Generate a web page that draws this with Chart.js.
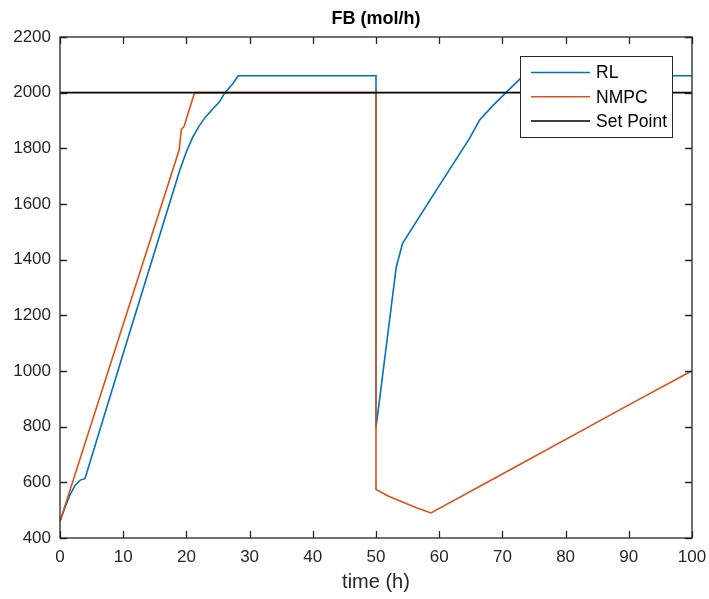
<!DOCTYPE html>
<html>
<head>
<meta charset="utf-8">
<script src="https://cdn.jsdelivr.net/npm/chart.js@4/dist/chart.umd.min.js"></script>
<style>
  html, body { margin: 0; padding: 0; background: #fff; }
  #wrap { width: 709px; height: 599px; }
</style>
</head>
<body>
<div id="wrap"><canvas id="c" width="709" height="599"></canvas></div>
<script>
// Feed rate FB (mol/h) over time for the RL controller, NMPC and the set point
const timeRL = [0, 0.8, 1.6, 2.4, 3.2, 3.95, 10.5, 19.0, 20.0, 21.0, 22.0, 23.0, 24.2, 25.2, 26.1, 27.4, 28.2,
                50, 50, 53.2, 54.2, 59.5, 64.8, 66.4, 68.6, 70.6, 72.7, 73.4, 100];
const fbRL   = [460, 510, 556, 590, 608, 613, 1100, 1725, 1788, 1840, 1880, 1912, 1942, 1966, 2000, 2034, 2061,
                2061, 796, 1373, 1459, 1648, 1836, 1902, 1956, 2001, 2048, 2061, 2061];

const timeNMPC = [0, 18.85, 19.2, 19.6, 21.3, 50, 50, 52, 54.2, 56.5, 58.7, 70, 89.5, 100];
const fbNMPC   = [460, 1794, 1868, 1877, 2000, 2000, 574, 550, 529, 508, 490, 630, 872, 1001];

const timeSP = [0, 100];
const fbSP   = [2000, 2000];

const xTicks = [0, 10, 20, 30, 40, 50, 60, 70, 80, 90, 100];
const yTicks = [400, 600, 800, 1000, 1200, 1400, 1600, 1800, 2000, 2200];

const seriesNames = ['RL', 'NMPC', 'Set Point'];
const seriesColors = ['#0072BD', '#D95319', '#000000'];

const toPoints = (xs, ys) => xs.map((x, i) => ({ x: x, y: ys[i] }));

const FONT = "'Liberation Sans', Arial, Helvetica, sans-serif";
const AXIS = '#262626';

// Box around the axes with inward tick marks on all four sides, plus a MATLAB-like legend
const boxPlugin = {
  id: 'boxAxes',
  afterDatasetsDraw(chart) {
    const { ctx, chartArea: a, scales } = chart;
    ctx.save();
    ctx.strokeStyle = AXIS;
    ctx.lineWidth = 1.3;
    ctx.strokeRect(a.left, a.top, a.right - a.left, a.bottom - a.top);
    const len = 7;
    ctx.beginPath();
    xTicks.forEach(v => {
      const px = Math.round(scales.x.getPixelForValue(v)) + 0.5;
      ctx.moveTo(px, a.bottom); ctx.lineTo(px, a.bottom - len);
      ctx.moveTo(px, a.top); ctx.lineTo(px, a.top + len);
    });
    yTicks.forEach(v => {
      const py = Math.round(scales.y.getPixelForValue(v)) + 0.5;
      ctx.moveTo(a.left, py); ctx.lineTo(a.left + len, py);
      ctx.moveTo(a.right, py); ctx.lineTo(a.right - len, py);
    });
    ctx.stroke();

    // legend box
    const lx = 520, ly = 56, lw = 152, lh = 81;
    ctx.fillStyle = '#ffffff';
    ctx.fillRect(lx, ly, lw, lh);
    ctx.strokeStyle = AXIS;
    ctx.lineWidth = 1;
    ctx.strokeRect(lx + 0.5, ly + 0.5, lw, lh);
    ctx.font = '17.5px ' + FONT;
    ctx.textBaseline = 'middle';
    ctx.textAlign = 'left';
    chart.data.datasets.forEach((ds, i) => {
      const y = ly + 16.5 + i * 24.3;
      ctx.strokeStyle = ds.borderColor;
      ctx.lineWidth = 1.5;
      ctx.beginPath();
      ctx.moveTo(lx + 11, y); ctx.lineTo(lx + 70, y);
      ctx.stroke();
      ctx.fillStyle = '#000';
      ctx.fillText(ds.label, lx + 76, y + 1);
    });
    ctx.restore();
  }
};

new Chart(document.getElementById('c'), {
  type: 'line',
  data: {
    datasets: [
      { label: seriesNames[0], data: toPoints(timeRL, fbRL), borderColor: seriesColors[0], order: 3 },
      { label: seriesNames[1], data: toPoints(timeNMPC, fbNMPC), borderColor: seriesColors[1], order: 2 },
      { label: seriesNames[2], data: toPoints(timeSP, fbSP), borderColor: seriesColors[2], order: 1 }
    ].map(d => Object.assign(d, { borderWidth: 1.6, pointRadius: 0, tension: 0, fill: false }))
  },
  options: {
    responsive: false,
    animation: false,
    devicePixelRatio: 1,
    layout: { padding: { left: 0, right: 17, top: 0, bottom: 0 } },
    plugins: {
      legend: { display: false },
      tooltip: { enabled: false },
      title: {
        display: true,
        text: 'FB (mol/h)',
        fullSize: false,
        color: '#000',
        font: { family: FONT, size: 18, weight: 'bold' },
        padding: { top: 8, bottom: 7.4 }
      }
    },
    scales: {
      x: {
        type: 'linear',
        min: 0, max: 100,
        afterBuildTicks: s => { s.ticks = xTicks.map(v => ({ value: v })); },
        ticks: { color: AXIS, font: { family: FONT, size: 17 }, padding: 9, maxRotation: 0, autoSkip: false,
                 callback: v => String(v) },
        grid: { display: false, drawTicks: false },
        border: { display: false },
        title: { display: true, text: 'time (h)', color: AXIS, font: { family: FONT, size: 20 }, padding: { top: 4, bottom: 5 } },
        afterFit: s => { s.height = 61; s.paddingLeft = 0; s.paddingRight = 0; }
      },
      y: {
        type: 'linear',
        min: 400, max: 2200,
        afterBuildTicks: s => { s.ticks = yTicks.map(v => ({ value: v })); },
        ticks: { color: AXIS, font: { family: FONT, size: 17 }, padding: 9, autoSkip: false,
                 callback: v => String(v) },
        grid: { display: false, drawTicks: false },
        border: { display: false },
        afterFit: s => { s.width = 60; s.paddingTop = 0; s.paddingBottom = 0; }
      }
    }
  },
  plugins: [boxPlugin]
});
</script>
</body>
</html>
